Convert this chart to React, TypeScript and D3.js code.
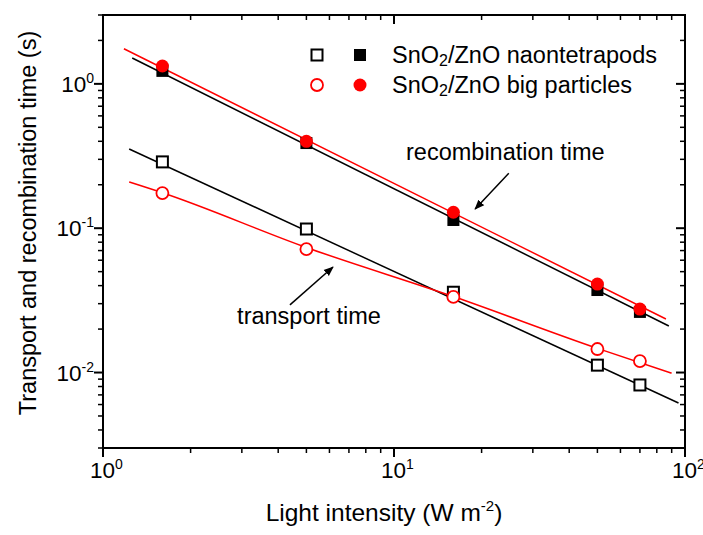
import React from 'react';
import * as d3 from 'd3';

// light intensity (W m^-2)
const intensity = [1.6, 5, 16, 50, 70];

// measured times (s)
const recombTetrapods = [1.23, 0.389, 0.114, 0.0373, 0.0263];
const recombParticles = [1.33, 0.4, 0.129, 0.041, 0.0275];
const transportTetrapods = [0.288, 0.0987, 0.036, 0.01125, 0.0082];
const transportParticles = [0.175, 0.0716, 0.0334, 0.01455, 0.012];

// fitted lines
const fitRecombTetrapodsX = [1.26, 88];
const fitRecombTetrapodsY = [1.51, 0.021];
const fitRecombParticlesX = [1.18, 86];
const fitRecombParticlesY = [1.75, 0.0235];
const fitTransportTetrapodsX = [1.23, 95];
const fitTransportTetrapodsY = [0.354, 0.00615];
const fitTransportParticlesX = [1.23, 1.6, 5, 16, 50, 90];
const fitTransportParticlesY = [0.209, 0.176, 0.0735, 0.0336, 0.0147, 0.0099];

const xMajor = [1, 10, 100];
const yMajor = [0.01, 0.1, 1];
const xExp = ['0', '1', '2'];
const yExp = ['-2', '-1', '0'];

const W = 703;
const H = 535;
const margin = { top: 15, right: 18, bottom: 87, left: 103 };
const FONT = 'Liberation Sans, Arial, sans-serif';
const RED = '#ff0000';
const FS = 23.5;

export default function App() {
  const x = d3.scaleLog().domain([1, 100]).range([margin.left, W - margin.right]);
  const y = d3.scaleLog().domain([0.003, 3]).range([H - margin.bottom, margin.top]);
  const x0 = margin.left, x1 = W - margin.right, y0 = H - margin.bottom, y1 = margin.top;

  const xMinor = x.ticks().filter(v => !xMajor.includes(v));
  const yMinor = [0.003, 0.004, 0.005, 0.006, 0.007, 0.008, 0.009,
    0.02, 0.03, 0.04, 0.05, 0.06, 0.07, 0.08, 0.09,
    0.2, 0.3, 0.4, 0.5, 0.6, 0.7, 0.8, 0.9, 2, 3];

  const line = d3.line<[number, number]>().x(d => x(d[0])).y(d => y(d[1]));
  const curve = d3.line<[number, number]>().x(d => x(d[0])).y(d => y(d[1])).curve(d3.curveMonotoneX);
  const zip = (a: number[], b: number[]) => a.map((v, i) => [v, b[i]] as [number, number]);

  const sq = 11;
  const r = 6;

  return (
    <div style={{ position: 'absolute', left: 0, top: 0 }}>
      <svg width={W} height={H} style={{ display: 'block', background: '#fff' }} fontFamily={FONT}>
        <defs>
          <marker id="arr" viewBox="0 0 10 10" refX="9" refY="5" markerWidth="10" markerHeight="10"
            markerUnits="userSpaceOnUse" orient="auto">
            <path d="M0,1 L10,5 L0,9 z" fill="#000" />
          </marker>
        </defs>

        {/* fit lines */}
        <path d={line(zip(fitRecombTetrapodsX, fitRecombTetrapodsY)) || ''} stroke="#000" strokeWidth={1.5} fill="none" />
        <path d={line(zip(fitRecombParticlesX, fitRecombParticlesY)) || ''} stroke={RED} strokeWidth={1.5} fill="none" />
        <path d={line(zip(fitTransportTetrapodsX, fitTransportTetrapodsY)) || ''} stroke="#000" strokeWidth={1.5} fill="none" />
        <path d={curve(zip(fitTransportParticlesX, fitTransportParticlesY)) || ''} stroke={RED} strokeWidth={1.5} fill="none" />

        {/* markers */}
        {intensity.map((v, i) => (
          <g key={i}>
            <rect x={x(v) - sq / 2} y={y(transportTetrapods[i]) - sq / 2} width={sq} height={sq}
              fill="#fff" stroke="#000" strokeWidth={2} />
            <circle cx={x(v)} cy={y(transportParticles[i])} r={r} fill="#fff" stroke={RED} strokeWidth={1.8} />
            <rect x={x(v) - sq / 2 - 0.5} y={y(recombTetrapods[i]) - sq / 2 - 0.5} width={sq + 1} height={sq + 1} fill="#000" />
            <circle cx={x(v)} cy={y(recombParticles[i])} r={r + 0.5} fill={RED} />
          </g>
        ))}

        {/* frame */}
        <rect x={x0} y={y1} width={x1 - x0} height={y0 - y1} fill="none" stroke="#000" strokeWidth={2} />

        {/* x ticks */}
        {xMajor.map(v => (
          <g key={'xM' + v}>
            <line x1={x(v)} x2={x(v)} y1={y0} y2={y0 + 9} stroke="#000" strokeWidth={2} />
            <line x1={x(v)} x2={x(v)} y1={y1} y2={y1 + 9} stroke="#000" strokeWidth={2} />
          </g>
        ))}
        {xMinor.map(v => (
          <g key={'xm' + v}>
            <line x1={x(v)} x2={x(v)} y1={y0} y2={y0 + 5} stroke="#000" strokeWidth={1.5} />
            <line x1={x(v)} x2={x(v)} y1={y1} y2={y1 + 5} stroke="#000" strokeWidth={1.5} />
          </g>
        ))}
        {/* y ticks */}
        {yMajor.map(v => (
          <g key={'yM' + v}>
            <line x1={x0 - 9} x2={x0} y1={y(v)} y2={y(v)} stroke="#000" strokeWidth={2} />
            <line x1={x1 - 9} x2={x1} y1={y(v)} y2={y(v)} stroke="#000" strokeWidth={2} />
          </g>
        ))}
        {yMinor.map(v => (
          <g key={'ym' + v}>
            <line x1={x0 - 5} x2={x0} y1={y(v)} y2={y(v)} stroke="#000" strokeWidth={1.5} />
            <line x1={x1 - 5} x2={x1} y1={y(v)} y2={y(v)} stroke="#000" strokeWidth={1.5} />
          </g>
        ))}

        {/* tick labels */}
        {xMajor.map((v, i) => (
          <text key={'xl' + v} x={x(v) - 13} y={y0 + 30} fontSize={22.5} fill="#000">
            10<tspan fontSize={14} dy={-9}>{xExp[i]}</tspan>
          </text>
        ))}
        {yMajor.map((v, i) => (
          <text key={'yl' + v} x={x0 - 9} y={y(v) + 8} fontSize={22.5} fill="#000" textAnchor="end">
            10<tspan fontSize={14} dy={-9}>{yExp[i]}</tspan>
          </text>
        ))}

        {/* axis titles */}
        <text x={384} y={521} fontSize={24.5} textAnchor="middle" fill="#000">
          Light intensity (W m<tspan fontSize={15} dy={-10}>-2</tspan><tspan dy={10}>)</tspan>
        </text>
        <text transform={`translate(36,${223}) rotate(-90)`} fontSize={FS} textAnchor="middle" fill="#000">
          Transport and recombination time (s)
        </text>

        {/* annotations */}
        <text x={x(11)} y={y(0.297)} fontSize={FS} fill="#000">recombination time</text>
        <line x1={x(24.8)} y1={y(0.24)} x2={x(19)} y2={y(0.136)} stroke="#000" strokeWidth={1.5} markerEnd="url(#arr)" />
        <text x={x(2.89)} y={y(0.0217)} fontSize={FS} fill="#000">transport time</text>
        <line x1={x(4.39)} y1={y(0.0294)} x2={x(6.17)} y2={y(0.0538)} stroke="#000" strokeWidth={1.5} markerEnd="url(#arr)" />

        {/* legend */}
        <g>
          <rect x={317 - sq / 2} y={55 - sq / 2} width={sq} height={sq} fill="#fff" stroke="#000" strokeWidth={2} />
          <rect x={360 - sq / 2 - 0.5} y={55 - sq / 2 - 0.5} width={sq + 1} height={sq + 1} fill="#000" />
          <text x={392} y={63} fontSize={FS} fill="#000">
            SnO<tspan fontSize={16} dy={3}>2</tspan><tspan dy={-3}>/ZnO naontetrapods</tspan>
          </text>
          <circle cx={317} cy={85} r={r} fill="#fff" stroke={RED} strokeWidth={1.8} />
          <circle cx={360} cy={85} r={r + 0.5} fill={RED} />
          <text x={392} y={93} fontSize={FS} fill="#000">
            SnO<tspan fontSize={16} dy={3}>2</tspan><tspan dy={-3}>/ZnO big particles</tspan>
          </text>
        </g>
      </svg>
    </div>
  );
}
